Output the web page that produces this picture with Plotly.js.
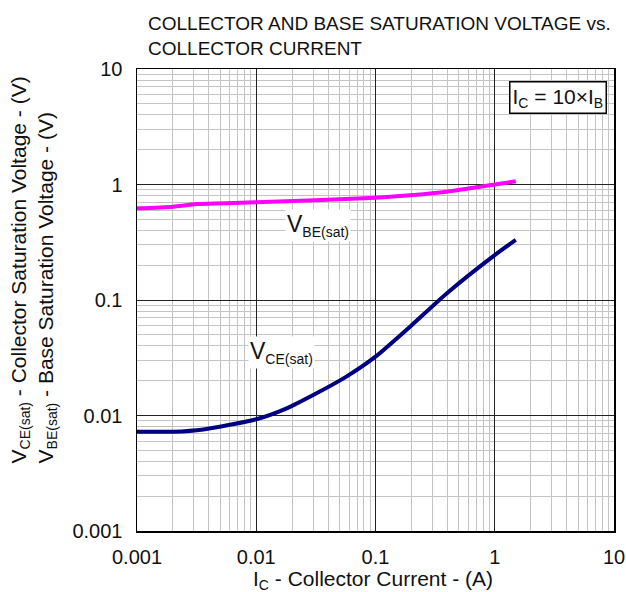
<!DOCTYPE html>
<html>
<head>
<meta charset="utf-8">
<script src="https://cdn.plot.ly/plotly-3.0.1.min.js"></script>
<style>html,body{margin:0;padding:0;background:#fff;}#chart{width:626px;height:592px;}</style>
</head>
<body>
<div id="chart"></div>
<script>
// Collector current (A) and saturation voltages (V)
const icVce = [0.001, 0.002, 0.0036, 0.01, 0.018, 0.032, 0.057, 0.1, 0.195, 0.395, 1, 1.5];
const vceSat = [0.00724, 0.00724, 0.00758, 0.00927, 0.01153, 0.01556, 0.0217, 0.0323, 0.0588, 0.114, 0.245, 0.331];
const icVbe = [0.001, 0.002, 0.00316, 0.01, 0.1, 0.207, 0.395, 1, 1.5];
const vbeSat = [0.622, 0.643, 0.678, 0.701, 0.769, 0.811, 0.867, 1.0, 1.066];

const xTickVals = [0.001, 0.01, 0.1, 1, 10];
const xTickText = ['0.001', '0.01', '0.1', '1', '10'];
const yTickVals = [0.001, 0.01, 0.1, 1, 10];
const yTickText = ['0.001', '0.01', '0.1', '1', '10'];

const FONT = 'Liberation Sans, Arial, sans-serif';
const SUB = s => '<sub><span style="font-size:14px">' + s + '</span></sub>';

const traces = [
  {x: icVbe, y: vbeSat, mode: 'lines', line: {color: '#ff00ff', width: 4, shape: 'spline', smoothing: 0.6}, hoverinfo: 'skip'},
  {x: icVce, y: vceSat, mode: 'lines', line: {color: '#000080', width: 4, shape: 'spline', smoothing: 0.6}, hoverinfo: 'skip'}
];

const axisCommon = {
  type: 'log',
  tickmode: 'array',
  ticks: '',
  showgrid: true,
  gridcolor: '#222',
  gridwidth: 1,
  showline: true,
  linecolor: '#000',
  linewidth: 1.5,
  mirror: true,
  zeroline: false,
  tickfont: {family: FONT, size: 20, color: '#111'},
  minor: {dtick: 'D1', showgrid: true, gridcolor: '#c4c4c4', gridwidth: 1, ticks: ''}
};

const layout = {
  width: 626, height: 592,
  margin: {l: 137, r: 12, t: 69, b: 61},
  paper_bgcolor: '#fff', plot_bgcolor: '#fff',
  showlegend: false,
  font: {family: FONT, color: '#111'},
  xaxis: Object.assign({}, axisCommon, {
    range: [-3, 1],
    tickvals: xTickVals, ticktext: xTickText,
    ticklabelstandoff: 7
  }),
  yaxis: Object.assign({}, axisCommon, {
    range: [-3, 1],
    tickvals: yTickVals, ticktext: yTickText,
    ticklabelstandoff: 9
  }),
  annotations: [
    {text: 'COLLECTOR AND BASE SATURATION VOLTAGE vs.<br>COLLECTOR CURRENT',
     xref: 'paper', yref: 'paper', x: (146 - 137) / 477, y: 1 + (69 - 11) / 462,
     xanchor: 'left', yanchor: 'top', align: 'left', showarrow: false,
     font: {family: FONT, size: 19, color: '#111'}},
    {text: 'I' + SUB('C') + ' - Collector Current - (A)',
     xref: 'paper', yref: 'paper', x: (372.5 - 137) / 477, y: -(580 - 531) / 462,
     xanchor: 'center', yanchor: 'middle', showarrow: false,
     font: {family: FONT, size: 21, color: '#111'}},
    {text: 'V' + SUB('CE(sat)') + ' - Collector Saturation Voltage - (V)<br>V' + SUB('BE(sat)') + ' - Base Saturation Voltage - (V)',
     xref: 'paper', yref: 'paper', x: -0.217, y: 0.565, xanchor: 'center', yanchor: 'middle',
     textangle: -90, align: 'left', showarrow: false, font: {family: FONT, size: 21, color: '#111'}},
    {text: 'V' + SUB('BE(sat)'), x: Math.log10(0.033), y: Math.log10(0.446), xref: 'x', yref: 'y',
     showarrow: false, bgcolor: '#fff', font: {family: FONT, size: 23, color: '#111'}},
    {text: 'V' + SUB('CE(sat)'), x: Math.log10(0.0162), y: Math.log10(0.0348), xref: 'x', yref: 'y',
     showarrow: false, bgcolor: '#fff', font: {family: FONT, size: 23, color: '#111'}},
    {text: 'I' + SUB('C') + ' = 10×I' + SUB('B'), x: Math.log10(3.4), y: Math.log10(5.61), xref: 'x', yref: 'y',
     showarrow: false, bgcolor: '#fff', bordercolor: '#000', borderwidth: 1.5, borderpad: 2,
     font: {family: FONT, size: 21, color: '#111'}}
  ]
};

Plotly.newPlot('chart', traces, layout, {staticPlot: true, displayModeBar: false});
</script>
</body>
</html>
